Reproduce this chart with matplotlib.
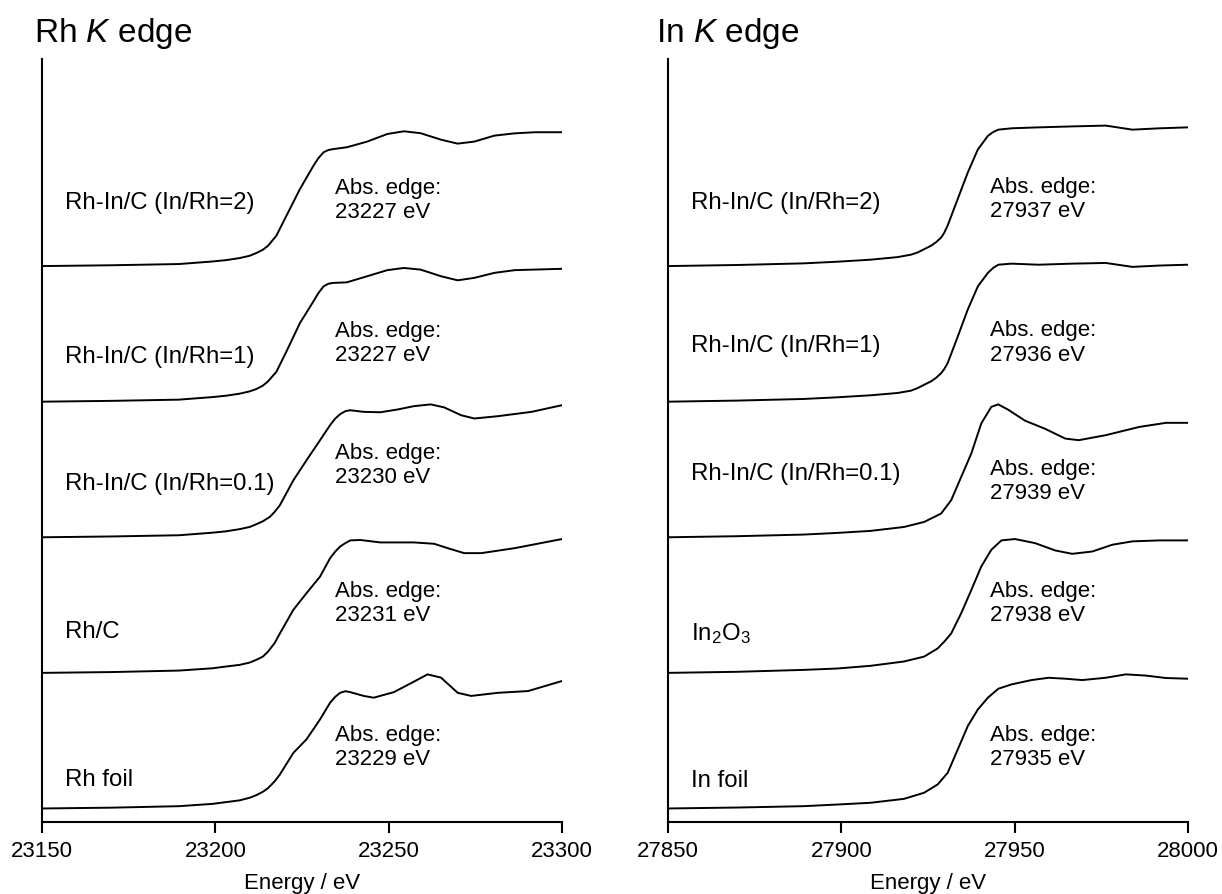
import matplotlib
matplotlib.use("Agg")
import matplotlib.pyplot as plt

plt.rcParams["font.family"] = ["Liberation Sans", "DejaVu Sans"]
plt.rcParams["mathtext.fontset"] = "custom"
plt.rcParams["mathtext.rm"] = "Liberation Sans"
plt.rcParams["mathtext.it"] = "Liberation Sans:italic"

# ---- Rh K edge spectra (normalised absorption) ----
rh_labels = ["Rh-In/C (In/Rh=2)", "Rh-In/C (In/Rh=1)", "Rh-In/C (In/Rh=0.1)", "Rh/C", "Rh foil"]
rh_edges = [23227, 23227, 23230, 23231, 23229]

rh_E1 = [23150, 23170, 23189.5, 23199.2, 23203.1, 23207.0, 23209.9, 23211.8, 23213.7, 23215.2,
         23217.6, 23220.5, 23224.4, 23228.3, 23229.7, 23231.2, 23232.6, 23234.1, 23237.9, 23243.8,
         23249.6, 23254.4, 23259.2, 23265.1, 23269.9, 23274.7, 23280.5, 23286.4, 23292.2, 23300]
rh_mu1 = [0, 0.006, 0.015, 0.034, 0.044, 0.059, 0.076, 0.096, 0.12, 0.15,
          0.224, 0.371, 0.568, 0.74, 0.795, 0.839, 0.856, 0.863, 0.876, 0.918,
          0.974, 0.994, 0.98, 0.932, 0.903, 0.918, 0.962, 0.979, 0.987, 0.987]

rh_E2 = [23150, 23170, 23189.5, 23199.2, 23203.1, 23207.0, 23209.9, 23211.8, 23213.7, 23215.2,
         23217.6, 23220.5, 23224.4, 23228.3, 23229.7, 23231.2, 23232.6, 23234.1, 23237.9, 23243.8,
         23249.6, 23254.4, 23259.2, 23265.1, 23269.9, 23274.7, 23280.5, 23286.4, 23300]
rh_mu2 = [0, 0.006, 0.015, 0.034, 0.044, 0.059, 0.076, 0.093, 0.118, 0.15,
          0.22, 0.37, 0.58, 0.74, 0.80, 0.85, 0.87, 0.876, 0.88, 0.925,
          0.97, 0.986, 0.974, 0.925, 0.895, 0.913, 0.95, 0.97, 0.98]

rh_E3 = [23150, 23170, 23189.5, 23199.2, 23203.1, 23207.0, 23209.9, 23211.8, 23213.7, 23215.7,
         23217.1, 23218.6, 23222.5, 23226.3, 23230.2, 23233.1, 23234.6, 23236.0, 23237.5, 23238.9,
         23242.8, 23247.6, 23252.5, 23257.3, 23262.1, 23266.0, 23270.9, 23274.7, 23281.5, 23291.2,
         23300]
rh_mu3 = [0, 0.006, 0.015, 0.034, 0.044, 0.06, 0.076, 0.096, 0.118, 0.15,
          0.187, 0.236, 0.42, 0.568, 0.716, 0.827, 0.876, 0.908, 0.93, 0.937,
          0.925, 0.922, 0.942, 0.967, 0.98, 0.958, 0.90, 0.876, 0.893, 0.925,
          0.974]

rh_E4 = [23150, 23170, 23189.5, 23199.2, 23203.1, 23207.0, 23209.9, 23211.8, 23213.7, 23215.2,
         23217.1, 23218.6, 23222.5, 23226.3, 23230.2, 23233.1, 23234.6, 23236.0, 23237.5, 23238.9,
         23241.8, 23247.6, 23257.3, 23263.1, 23267.0, 23271.8, 23276.7, 23286.4, 23300]
rh_mu4 = [0, 0.006, 0.017, 0.034, 0.047, 0.059, 0.076, 0.096, 0.12, 0.157,
          0.22, 0.29, 0.465, 0.588, 0.71, 0.846, 0.895, 0.932, 0.957, 0.977,
          0.98, 0.962, 0.962, 0.952, 0.92, 0.883, 0.883, 0.92, 0.987]

rh_E5 = [23150, 23170, 23189.5, 23199.2, 23203.1, 23207.0, 23209.9, 23211.8, 23213.7, 23215.2,
         23217.1, 23218.6, 23222.5, 23226.3, 23230.2, 23233.1, 23234.6, 23236.0, 23237.5, 23238.9,
         23242.8, 23245.7, 23251.5, 23256.3, 23261.2, 23265.1, 23269.9, 23273.8, 23281.5, 23290.2,
         23300]
rh_mu5 = [0, 0.006, 0.017, 0.034, 0.047, 0.06, 0.079, 0.098, 0.123, 0.15,
          0.2, 0.25, 0.41, 0.51, 0.657, 0.78, 0.824, 0.853, 0.865, 0.858,
          0.83, 0.817, 0.858, 0.922, 0.989, 0.965, 0.853, 0.83, 0.853, 0.866,
          0.94]

# ---- In K edge spectra (normalised absorption) ----
in_labels = ["Rh-In/C (In/Rh=2)", "Rh-In/C (In/Rh=1)", "Rh-In/C (In/Rh=0.1)",
             r"In$_2$O$_3$", "In foil"]
in_edges = [27937, 27936, 27939, 27938, 27935]

in_E1 = [27850, 27870, 27889.1, 27898.7, 27908.4, 27916.2, 27920.1, 27922.0, 27925.9, 27927.3,
         27928.8, 27929.7, 27930.7, 27933.6, 27936.5, 27939.4, 27942.3, 27943.8, 27945.3, 27949.1,
         27956.9, 27966.6, 27976.3, 27984.0, 27991.8, 28000]
in_mu1 = [0, 0.008, 0.02, 0.032, 0.047, 0.066, 0.084, 0.10, 0.15, 0.175,
          0.21, 0.245, 0.30, 0.495, 0.69, 0.86, 0.96, 0.988, 1.006, 1.016,
          1.023, 1.03, 1.036, 1.006, 1.016, 1.023]

in_E2 = [27850, 27870, 27889.1, 27898.7, 27908.4, 27916.2, 27920.1, 27922.0, 27925.9, 27927.3,
         27928.8, 27929.7, 27930.7, 27933.6, 27936.5, 27939.4, 27942.3, 27943.8, 27945.3, 27949.1,
         27956.9, 27966.6, 27976.3, 27984.0, 27991.8, 28000]
in_mu2 = [0, 0.008, 0.02, 0.032, 0.047, 0.064, 0.081, 0.10, 0.15, 0.175,
          0.21, 0.24, 0.285, 0.48, 0.68, 0.85, 0.95, 0.986, 1.01, 1.018,
          1.01, 1.018, 1.023, 0.994, 1.004, 1.01]

in_E3 = [27850, 27870, 27889.1, 27898.7, 27908.4, 27918.1, 27923.9, 27928.8, 27931.7, 27934.6,
         27937.5, 27940.4, 27943.3, 27945.3, 27948.2, 27953.0, 27958.8, 27964.6, 27968.5, 27976.3,
         27986.0, 27993.7, 28000]
in_mu3 = [0, 0.008, 0.02, 0.032, 0.047, 0.076, 0.113, 0.175, 0.273, 0.445,
          0.617, 0.84, 0.962, 0.98, 0.94, 0.86, 0.80, 0.728, 0.716, 0.753,
          0.814, 0.844, 0.844]

in_E4 = [27850, 27870, 27889.1, 27898.7, 27908.4, 27918.1, 27923.9, 27927.8, 27929.7, 27931.7,
         27934.6, 27937.5, 27940.4, 27943.3, 27946.2, 27950.1, 27955.9, 27961.7, 27966.6, 27972.4,
         27978.2, 27984.0, 27991.8, 28000]
in_mu4 = [0, 0.008, 0.022, 0.032, 0.052, 0.084, 0.12, 0.18, 0.23, 0.29,
          0.44, 0.61, 0.785, 0.908, 0.977, 0.987, 0.957, 0.903, 0.878, 0.895,
          0.945, 0.97, 0.977, 0.977]

in_E5 = [27850, 27870, 27889.1, 27898.7, 27908.4, 27918.1, 27923.9, 27927.8, 27930.7, 27933.6,
         27936.5, 27939.4, 27942.3, 27945.3, 27949.1, 27954.9, 27959.8, 27964.6, 27969.5, 27976.3,
         27982.1, 27987.9, 27993.7, 28000]
in_mu5 = [0, 0.007, 0.017, 0.029, 0.042, 0.071, 0.116, 0.177, 0.263, 0.435,
          0.608, 0.73, 0.817, 0.883, 0.915, 0.947, 0.964, 0.957, 0.947, 0.964,
          0.989, 0.98, 0.962, 0.957]

rh_spectra = [(rh_E1, rh_mu1), (rh_E2, rh_mu2), (rh_E3, rh_mu3), (rh_E4, rh_mu4), (rh_E5, rh_mu5)]
in_spectra = [(in_E1, in_mu1), (in_E2, in_mu2), (in_E3, in_mu3), (in_E4, in_mu4), (in_E5, in_mu5)]

# heights (above each baseline) of the sample names and the edge-energy notes
rh_name_y = [0.47, 0.34, 0.40, 0.31, 0.22]
rh_edge_y = [0.49, 0.435, 0.535, 0.52, 0.46]
in_name_y = [0.47, 0.42, 0.475, 0.30, 0.21]
in_edge_y = [0.497, 0.44, 0.418, 0.52, 0.46]

fig = plt.figure(figsize=(12.22, 8.95), dpi=100)


def draw_panel(ax, spectra, labels, edges, name_y, edge_y, edge_x, xlim, xticks, title, title_x):
    n = len(spectra)
    span = xlim[1] - xlim[0]
    for i, (E, mu) in enumerate(spectra):
        offset = n - 1 - i
        ax.plot(E, [m + offset for m in mu], color="black", lw=1.4,
                solid_joinstyle="round")
        ax.text(xlim[0] + 0.045 * span, offset + name_y[i], labels[i],
                fontsize=17.3, va="center", ha="left")
        ax.text(xlim[0] + edge_x * span, offset + edge_y[i],
                "Abs. edge:\n%d eV" % edges[i], fontsize=16, va="center", ha="left",
                linespacing=1.2)
    ax.set_xlim(*xlim)
    ax.set_ylim(-0.10, 5.53)
    ax.set_xticks(xticks)
    ax.set_yticks([])
    ax.spines["top"].set_visible(False)
    ax.spines["right"].set_visible(False)
    ax.spines["left"].set_linewidth(1.5)
    ax.spines["bottom"].set_linewidth(1.5)
    ax.tick_params(axis="x", direction="out", length=8, width=1.5, labelsize=16, pad=5)
    ax.set_xlabel("Energy / eV", fontsize=16, labelpad=8)
    fig.text(title_x, 0.963, title, fontsize=24, ha="left", va="center")


ax1 = fig.add_axes([0.0344, 0.0804, 0.4255, 0.853])
ax2 = fig.add_axes([0.5466, 0.0804, 0.4255, 0.853])

draw_panel(ax1, rh_spectra, rh_labels, rh_edges, rh_name_y, rh_edge_y, 0.564,
           (23150, 23300), [23150, 23200, 23250, 23300], r"Rh $K$ edge", 0.028)
draw_panel(ax2, in_spectra, in_labels, in_edges, in_name_y, in_edge_y, 0.619,
           (27850, 28000), [27850, 27900, 27950, 28000], r"In $K$ edge", 0.537)

fig.savefig("out.png", dpi=100)
